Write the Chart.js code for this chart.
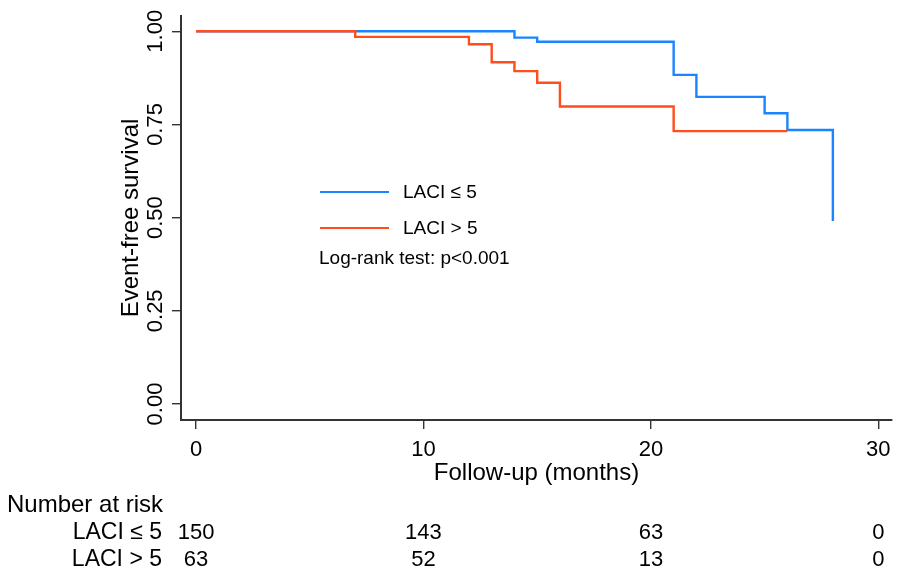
<!DOCTYPE html>
<html>
<head>
<meta charset="utf-8">
<script src="https://cdn.jsdelivr.net/npm/chart.js@4"></script>
<style>
html,body{margin:0;padding:0;background:#fff;}
#wrap{width:900px;height:577px;}
</style>
</head>
<body>
<div id="wrap"><canvas id="c" width="900" height="577"></canvas></div>
<script>
// ---- data ----
const blueLabel = 'LACI \u2264 5';
const redLabel = 'LACI > 5';
const blueTimes = [0, 14, 15, 21, 22, 25, 26, 28];
const blueSurv  = [1.0, 0.983, 0.972, 0.883, 0.824, 0.780, 0.735, 0.491];
const redTimes  = [0, 7, 12, 13, 14, 15, 16, 21, 26];
const redSurv   = [1.0, 0.985, 0.965, 0.917, 0.893, 0.862, 0.798, 0.732, 0.732];
const xTickValues = [0, 10, 20, 30];
const yTickValues = [0, 0.25, 0.5, 0.75, 1.0];
const yTickLabels = ['0.00', '0.25', '0.50', '0.75', '1.00'];
const riskTimes = [0, 10, 20, 30];
const riskBlue = [150, 143, 63, 0];
const riskRed  = [63, 52, 13, 0];
const pText = 'Log-rank test: p<0.001';

const BLUE = '#1a85ff';
const RED = '#ff4d1c';
const AXIS = '#333333';
const FONT = '"Liberation Sans", Arial, Helvetica, sans-serif';

const toPts = (t, s) => t.map((v, i) => ({x: v, y: s[i]}));

const textPlugin = {
  id: 'texts',
  afterDraw(chart) {
    const ctx = chart.ctx;
    const xs = chart.scales.x, ys = chart.scales.y;
    const ca = chart.chartArea;
    ctx.save();
    ctx.fillStyle = '#000';
    // y tick labels (rotated)
    ctx.font = '22px ' + FONT;
    ctx.textAlign = 'center';
    ctx.textBaseline = 'alphabetic';
    yTickValues.forEach((v, i) => {
      const py = ys.getPixelForValue(v);
      ctx.save();
      ctx.translate(162, py);
      ctx.rotate(-Math.PI / 2);
      ctx.fillText(yTickLabels[i], 0, 0);
      ctx.restore();
    });
    // y title
    ctx.font = '24px ' + FONT;
    ctx.save();
    ctx.translate(138, (ca.top + ca.bottom) / 2);
    ctx.rotate(-Math.PI / 2);
    ctx.fillText('Event-free survival', 0, 0);
    ctx.restore();
    // x tick labels
    ctx.font = '22px ' + FONT;
    xTickValues.forEach(v => {
      ctx.fillText(String(v), xs.getPixelForValue(v), 456);
    });
    // x title
    ctx.font = '24px ' + FONT;
    ctx.fillText('Follow-up (months)', (ca.left + ca.right) / 2, 480);
    // risk table
    ctx.textAlign = 'left';
    ctx.font = '24px ' + FONT;
    ctx.fillText('Number at risk', 7, 512);
    ctx.textAlign = 'right';
    ctx.font = '23px ' + FONT;
    ctx.fillText(blueLabel, 162, 539);
    ctx.fillText(redLabel, 162, 566);
    ctx.textAlign = 'center';
    ctx.font = '22px ' + FONT;
    riskTimes.forEach((t, i) => {
      const px = xs.getPixelForValue(t);
      ctx.fillText(String(riskBlue[i]), px, 539);
      ctx.fillText(String(riskRed[i]), px, 566);
    });
    // legend
    ctx.lineWidth = 2.2;
    ctx.strokeStyle = chart.data.datasets[0].borderColor;
    ctx.beginPath(); ctx.moveTo(320, 192); ctx.lineTo(389, 192); ctx.stroke();
    ctx.strokeStyle = chart.data.datasets[1].borderColor;
    ctx.beginPath(); ctx.moveTo(320, 228); ctx.lineTo(389, 228); ctx.stroke();
    ctx.textAlign = 'left';
    ctx.font = '19px ' + FONT;
    ctx.fillText(chart.data.datasets[0].label, 403, 198);
    ctx.fillText(chart.data.datasets[1].label, 403, 234);
    ctx.fillText(pText, 319, 264);
    ctx.restore();
  }
};

new Chart(document.getElementById('c'), {
  type: 'line',
  data: {
    datasets: [
      {label: blueLabel, data: toPts(blueTimes, blueSurv), borderColor: BLUE, borderWidth: 2.4,
       stepped: 'before', pointRadius: 0, fill: false, order: 2},
      {label: redLabel, data: toPts(redTimes, redSurv), borderColor: RED, borderWidth: 2.4,
       stepped: 'before', pointRadius: 0, fill: false, order: 1}
    ]
  },
  options: {
    responsive: false,
    animation: false,
    devicePixelRatio: 1,
    layout: {padding: {top: 16, right: 8, left: 0, bottom: 0}},
    plugins: {legend: {display: false}, tooltip: {enabled: false}},
    elements: {line: {tension: 0}},
    scales: {
      x: {
        type: 'linear', min: -0.66, max: 30.6,
        afterBuildTicks: s => { s.ticks = xTickValues.map(v => ({value: v})); },
        afterFit: s => { s.height = 157; },
        ticks: {display: false},
        grid: {display: true, drawOnChartArea: false, drawTicks: true, tickLength: 9, color: AXIS, lineWidth: 1.4},
        border: {display: true, color: AXIS, width: 2}
      },
      y: {
        type: 'linear', min: -0.043, max: 1.041,
        afterBuildTicks: s => { s.ticks = yTickValues.map(v => ({value: v})); },
        afterFit: s => { s.width = 181; },
        ticks: {display: false},
        grid: {display: true, drawOnChartArea: false, drawTicks: true, tickLength: 9, color: AXIS, lineWidth: 1.4},
        border: {display: true, color: AXIS, width: 2}
      }
    }
  },
  plugins: [textPlugin]
});
</script>
</body>
</html>
